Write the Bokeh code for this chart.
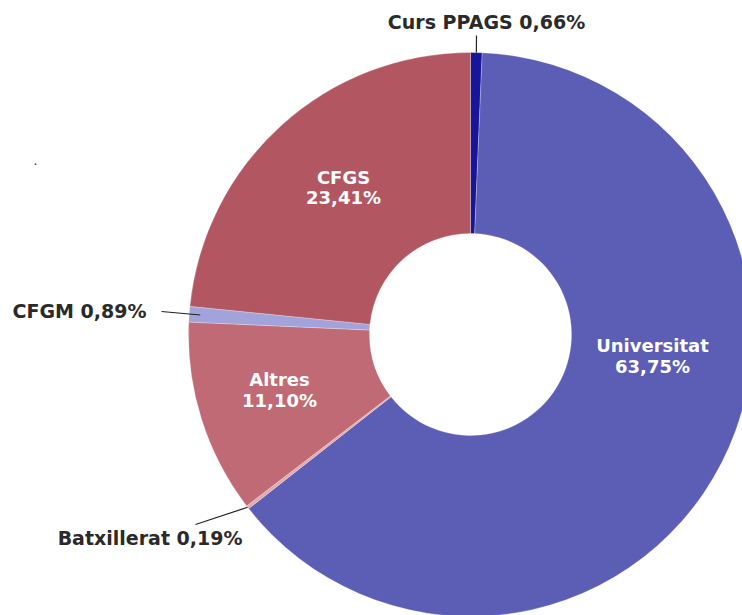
import numpy as np
from bokeh.plotting import figure
from bokeh.models import Range1d, ColumnDataSource
from bokeh.core.properties import value
from bokeh.embed import file_html
from bokeh.resources import INLINE

# ---- data ----
categories = ["Curs PPAGS", "Universitat", "Batxillerat", "Altres", "CFGM", "CFGS"]
percents = [0.66, 63.75, 0.19, 11.10, 0.89, 23.41]
colors = ["#16169a", "#5c5db5", "#e2a9b1", "#bf6a74", "#a2a3da", "#b25762"]

W, H = 742, 615
TEXT_DY = 8  # compensation for the rendered baseline offset
def fx(px):
    return px
def fy(py):
    return H - py
def ty_(py):
    return H - (py - TEXT_DY)

cx, cy = fx(470), fy(334)
R_OUT, R_IN = 282, 101

p = figure(width=W, height=H, output_backend="svg", toolbar_location=None,
           x_range=Range1d(0, W), y_range=Range1d(0, H), min_border=0)
p.axis.visible = False
p.grid.visible = False
p.outline_line_color = None
p.background_fill_color = "white"

pct = np.array(percents)
cum = np.concatenate([[0], np.cumsum(pct)])
start = np.deg2rad(90 - cum[:-1] * 3.6)
end = np.deg2rad(90 - cum[1:] * 3.6)
mid = (start + end) / 2

src = ColumnDataSource(dict(start=start, end=end, color=colors))
p.annular_wedge(x=cx, y=cy, inner_radius=R_IN, outer_radius=R_OUT,
                start_angle="start", end_angle="end", direction="clock",
                fill_color="color", line_color="white", line_width=0.5,
                line_alpha=0.5, source=src)

def fmt(v):
    return f"{v:.2f}".replace(".", ",") + "%"

FONT = value("DejaVu Sans")

# inside labels (page coords: centre x, name baseline, value baseline)
inside_pos = {"Universitat": (652, 353, 374), "Altres": (279, 387, 408), "CFGS": (343, 185, 205)}
for c, v in zip(categories, percents):
    if c in inside_pos:
        x, b1, b2 = inside_pos[c]
        p.text(x=[fx(x)], y=[ty_(b1)], text=[c], text_color="white", text_font=FONT,
               text_font_style="bold", text_font_size="18px", text_align="center",
               text_baseline="alphabetic")
        p.text(x=[fx(x)], y=[ty_(b2)], text=[fmt(v)], text_color="white", text_font=FONT,
               text_font_style="bold", text_font_size="18px", text_align="center",
               text_baseline="alphabetic")

# outside labels: (text anchor x, baseline y, align, leader end x, leader end y, leader inner radius)
outside_pos = {
    "Curs PPAGS": (486, 29, "center", 476, 35, R_OUT),
    "CFGM": (146, 318, "right", 161, 311, R_OUT - 11),
    "Batxillerat": (242, 545, "right", 195, 524, R_OUT),
}
for i, (c, v) in enumerate(zip(categories, percents)):
    if c in outside_pos:
        tx, tyy, al, lx, ly, rr = outside_pos[c]
        p.text(x=[fx(tx)], y=[ty_(tyy)], text=[f"{c} {fmt(v)}"], text_color="#2a2a2a",
               text_font=FONT, text_font_style="bold", text_font_size="19px",
               text_align=al, text_baseline="alphabetic")
        x0 = cx + rr * np.cos(mid[i])
        y0 = cy + rr * np.sin(mid[i])
        p.line(x=[x0, fx(lx)], y=[y0, fy(ly)], line_color="#222222", line_width=1.2)

# stray dot
p.text(x=[fx(35)], y=[ty_(168)], text=["."], text_color="#222222", text_font=FONT,
       text_font_size="12px", text_align="center", text_baseline="alphabetic")

open("out.html", "w").write(file_html(p, INLINE))
